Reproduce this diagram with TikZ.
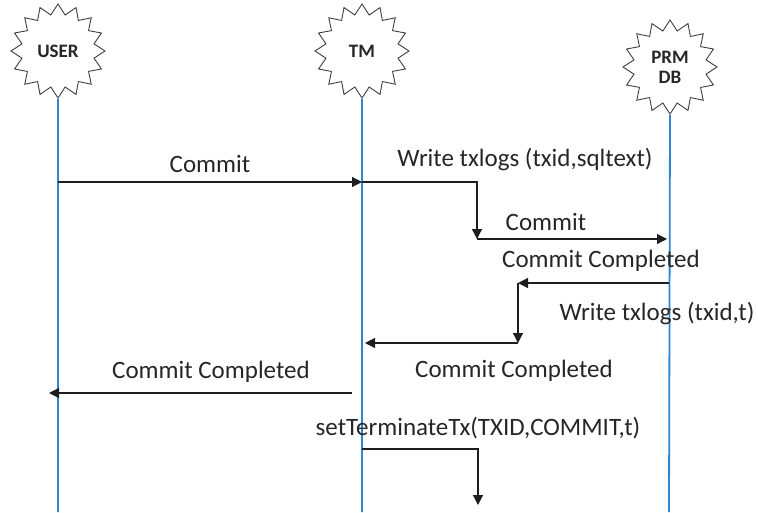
\documentclass[tikz,border=0pt]{standalone}
\usepackage{fontspec}
\setmainfont{Carlito}
\usetikzlibrary{shapes.geometric,arrows.meta}
\definecolor{lifeblue}{RGB}{46,134,211}
\definecolor{msggray}{RGB}{30,30,30}
\tikzset{
  actor/.style={star, star points=16, star point ratio=1.28, draw=black!75, line width=0.9pt,
    minimum size=94pt, inner sep=0pt, fill=white, font=\fontsize{19}{21}\selectfont\bfseries,
    align=center, text=black!85},
  lifeline/.style={draw=lifeblue, line width=1.8pt},
  msg/.style={draw=msggray, line width=1.2pt, -{Triangle[length=10pt,width=10pt]}},
  lbl/.style={font=\fontsize{25}{28}\selectfont, text=black!85, inner sep=0pt}
}
\begin{document}
\begin{tikzpicture}[x=1pt,y=-1pt]
\useasboundingbox (0,0) rectangle (758,512);
% actors
\node[actor] (user) at (58,51) {USER};
\node[actor] (tm) at (362,51) {TM};
\node[actor] (prm) at (670,67) {PRM\\[-1pt]DB};
% lifeline ends
\coordinate (ubot) at (58,512);
\coordinate (tbot) at (362,512);
\coordinate (pbot) at (669,512);
\draw[lifeline] (user.south) -- (ubot);
\draw[lifeline] (tm.south) -- (tbot);
\draw[lifeline] (prm.south) -- (pbot);
% message points
\coordinate (u1) at (58,182);
\coordinate (t1) at (362,182);
\coordinate (b1) at (477,182);
\coordinate (b2) at (477,239);
\coordinate (p2) at (667,239);
\coordinate (p3) at (669,283);
\coordinate (c3) at (518,283);
\coordinate (c4) at (518,343);
\coordinate (t4) at (365,343);
\coordinate (t5) at (352,393);
\coordinate (u5) at (49,393);
\coordinate (t6) at (362,449);
\coordinate (d6) at (478,449);
\coordinate (d7) at (478,505);
% messages
\draw[msg] (u1) -- (t1);
\draw[msg] (t1) -- (b1) -- (b2);
\draw[msg] (b2) -- (p2);
\draw[msg] (p3) -- (c3);
\draw[msg] (c3) -- (c4);
\draw[msg] (c4) -- (t4);
\draw[msg] (t5) -- (u5);
\draw[msg] (t6) -- (d6) -- (d7);
% labels
\node[lbl] (l1) at (210,164) {Commit};
\node[lbl] (l2) at (525,160) {Write txlogs (txid,sqltext)};
\node[lbl] (l3) at (546,222) {Commit};
\node[lbl] (l4) at (601,261) {Commit Completed};
\node[lbl] (l5) at (657,313) {Write txlogs (txid,t)};
\node[lbl] (l6) at (514,371) {Commit Completed};
\node[lbl] (l7) at (211,372) {Commit Completed};
\node[lbl] (l8) at (478,428) {setTerminateTx(TXID,COMMIT,t)};
\end{tikzpicture}
\end{document}
